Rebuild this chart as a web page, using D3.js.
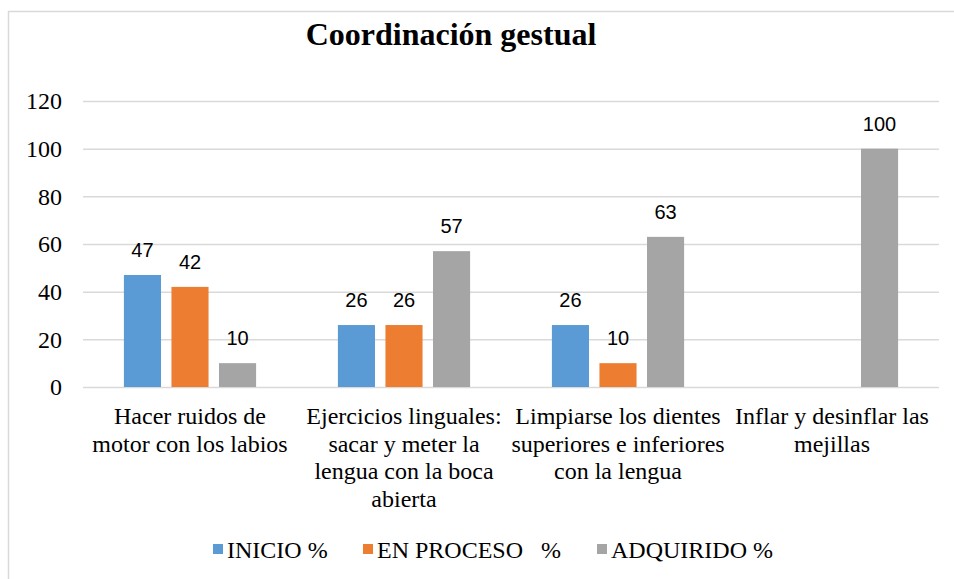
<!DOCTYPE html>
<html>
<head>
<meta charset="utf-8">
<script src="https://cdn.jsdelivr.net/npm/d3@7"></script>
<style>
  body { margin: 0; background: #fff; }
  svg { display: block; }
</style>
</head>
<body>
<div id="chart"></div>
<script>
// Chart data
var categories = ["cat1", "cat2", "cat3", "cat4"];
var categoryLines = [
  ["Hacer ruidos de", "motor con los labios"],
  ["Ejercicios linguales:", "sacar y meter la", "lengua con la boca", "abierta"],
  ["Limpiarse los dientes", "superiores e inferiores", "con la lengua"],
  ["Inflar y desinflar las", "mejillas"]
];
var seriesNames = ["INICIO %", "EN PROCESO   %", "ADQUIRIDO %"];
var inicio = [47, 26, 26, null];
var enProceso = [42, 26, 10, null];
var adquirido = [10, 57, 63, 100];
var yTicks = [0, 20, 40, 60, 80, 100, 120];
var colors = ["#5B9BD5", "#ED7D31", "#A5A5A5"];

var serif = "Liberation Serif";
var sans = "Liberation Sans";

var width = 954, height = 579;
var margin = {top: 101, right: 15, bottom: 192, left: 83};

var svg = d3.select("#chart")
  .append("svg")
  .attr("width", width)
  .attr("height", height);

// outer chart border (runs off the picture right and bottom)
svg.append("rect")
  .attr("x", 8.5).attr("y", 11.5)
  .attr("width", 1200).attr("height", 1200)
  .attr("fill", "none")
  .attr("stroke", "#d9d9d9")
  .attr("stroke-width", 1.5);

// Title
svg.append("text")
  .attr("x", 451)
  .attr("y", 45)
  .attr("text-anchor", "middle")
  .style("font-family", serif)
  .style("font-weight", "bold")
  .style("font-size", "32px")
  .text("Coordinación gestual");

var x0 = d3.scaleBand()
  .domain(categories)
  .range([margin.left, width - margin.right])
  .paddingInner(0)
  .paddingOuter(0);

var x1 = d3.scaleBand()
  .domain(d3.range(seriesNames.length))
  .range([0, x0.bandwidth()])
  .paddingInner(0.22)
  .paddingOuter(0.86);

var y = d3.scaleLinear()
  .domain([0, 120])
  .range([height - margin.bottom, margin.top]);

// gridlines
var grid = svg.append("g")
  .attr("transform", "translate(" + margin.left + ",0)")
  .call(d3.axisLeft(y).tickValues(yTicks)
    .tickSize(-(width - margin.right - margin.left))
    .tickFormat(""));
grid.select(".domain").remove();
grid.selectAll("line").attr("stroke", "#d9d9d9").attr("stroke-width", 1.5);

// y axis labels
var yAxis = svg.append("g")
  .attr("transform", "translate(" + margin.left + ",0)")
  .call(d3.axisLeft(y).tickValues(yTicks).tickSize(0).tickPadding(21));
yAxis.select(".domain").remove();
yAxis.selectAll("text")
  .attr("fill", "#000")
  .style("font-family", serif)
  .style("font-size", "24px");

// build rows for bars
var allSeries = [inicio, enProceso, adquirido];
var bars = [];
categories.forEach(function(c, i) {
  allSeries.forEach(function(s, j) {
    if (s[i] != null) bars.push({cat: c, s: j, v: s[i]});
  });
});

svg.append("g").selectAll("rect")
  .data(bars)
  .enter().append("rect")
  .attr("x", function(d) { return x0(d.cat) + x1(d.s); })
  .attr("y", function(d) { return y(d.v); })
  .attr("width", x1.bandwidth())
  .attr("height", function(d) { return y(0) - y(d.v); })
  .attr("fill", function(d) { return colors[d.s]; });

// value labels
svg.append("g").selectAll("text")
  .data(bars)
  .enter().append("text")
  .attr("x", function(d) { return x0(d.cat) + x1(d.s) + x1.bandwidth() / 2; })
  .attr("y", function(d) { return y(d.v) - 18; })
  .attr("text-anchor", "middle")
  .style("font-family", sans)
  .style("font-size", "20px")
  .attr("fill", "#000")
  .text(function(d) { return d.v; });

// category labels
var catG = svg.append("g");
categories.forEach(function(c, i) {
  var t = catG.append("text")
    .attr("text-anchor", "middle")
    .style("font-family", serif)
    .style("font-size", "24px")
    .attr("fill", "#000");
  categoryLines[i].forEach(function(line, k) {
    t.append("tspan")
      .attr("x", x0(c) + x0.bandwidth() / 2)
      .attr("y", 424 + k * 27.5)
      .text(line);
  });
});

// Legend (item positions from the reference)
var legendX = [213, 363, 597];
var legend = svg.append("g");
seriesNames.forEach(function(name, i) {
  legend.append("rect")
    .attr("x", legendX[i]).attr("y", 544)
    .attr("width", 10).attr("height", 10)
    .attr("fill", colors[i]);
  legend.append("text")
    .attr("x", legendX[i] + 14)
    .attr("y", 558)
    .attr("xml:space", "preserve")
    .style("white-space", "pre")
    .style("font-family", serif)
    .style("font-size", "24px")
    .attr("fill", "#000")
    .text(name);
});
</script>
</body>
</html>
